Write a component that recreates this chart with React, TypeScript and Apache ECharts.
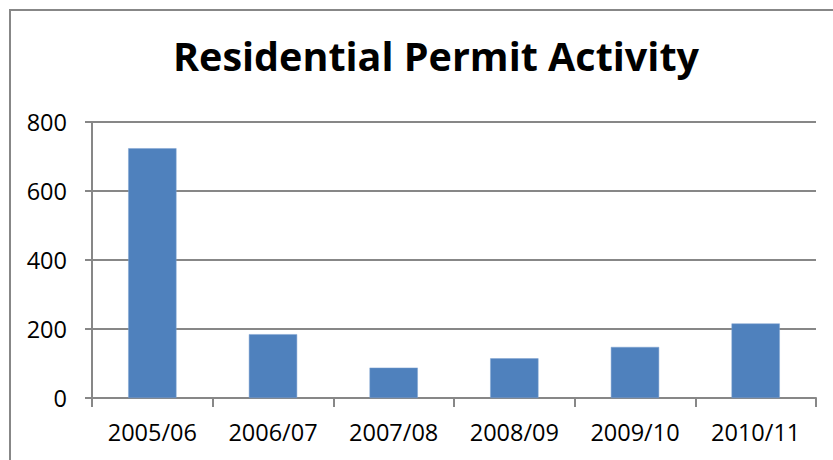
import React, { useEffect, useRef } from "react";
import * as echarts from "echarts";

const categories = ["2005/06", "2006/07", "2007/08", "2008/09", "2009/10", "2010/11"];
const permits = [724, 185, 88, 115, 148, 216];
const titleText = "Residential Permit Activity";

export default function App() {
  const ref = useRef<HTMLDivElement>(null);
  useEffect(() => {
    document.body.style.margin = "0";
    const chart = echarts.init(ref.current!, null, { renderer: "svg" });
    const font = "'Open Sans', 'Liberation Sans', sans-serif";
    chart.setOption({
      animation: false,
      backgroundColor: "#ffffff",
      title: {
        text: titleText,
        left: 431,
        top: 31,
        textAlign: "center",
        textStyle: { fontFamily: font, fontWeight: "bold", fontSize: 39.5, color: "#000" },
      },
      graphic: [
        {
          type: "rect",
          shape: { x: 10, y: 10, width: 1000, height: 700 },
          style: { fill: "none", stroke: "#878787", lineWidth: 2 },
          silent: true,
        },
      ],
      grid: { left: 92, right: 17, top: 122, bottom: 62, containLabel: false },
      xAxis: {
        type: "category",
        data: categories,
        axisLine: { show: true, lineStyle: { color: "#878787", width: 2 } },
        axisTick: { show: true, alignWithLabel: false, length: 9, lineStyle: { color: "#878787", width: 2 } },
        axisLabel: { color: "#000", fontFamily: font, fontSize: 23.5, margin: 22 },
      },
      yAxis: {
        type: "value",
        min: 0,
        max: 800,
        interval: 200,
        axisLine: { show: true, lineStyle: { color: "#878787", width: 2 } },
        axisTick: { show: true, length: 7, lineStyle: { color: "#878787", width: 2 } },
        axisLabel: { color: "#000", fontFamily: font, fontSize: 23.5, margin: 25 },
        splitLine: { show: true, lineStyle: { color: "#878787", width: 2 } },
      },
      series: [
        {
          type: "bar",
          data: permits,
          barWidth: "40%",
          itemStyle: { color: "#4F81BD", borderColor: "#7FA3D0", borderWidth: 0.5 },
        },
      ],
    });
    return () => chart.dispose();
  }, []);
  return <div ref={ref} style={{ width: 833, height: 460 }} />;
}
